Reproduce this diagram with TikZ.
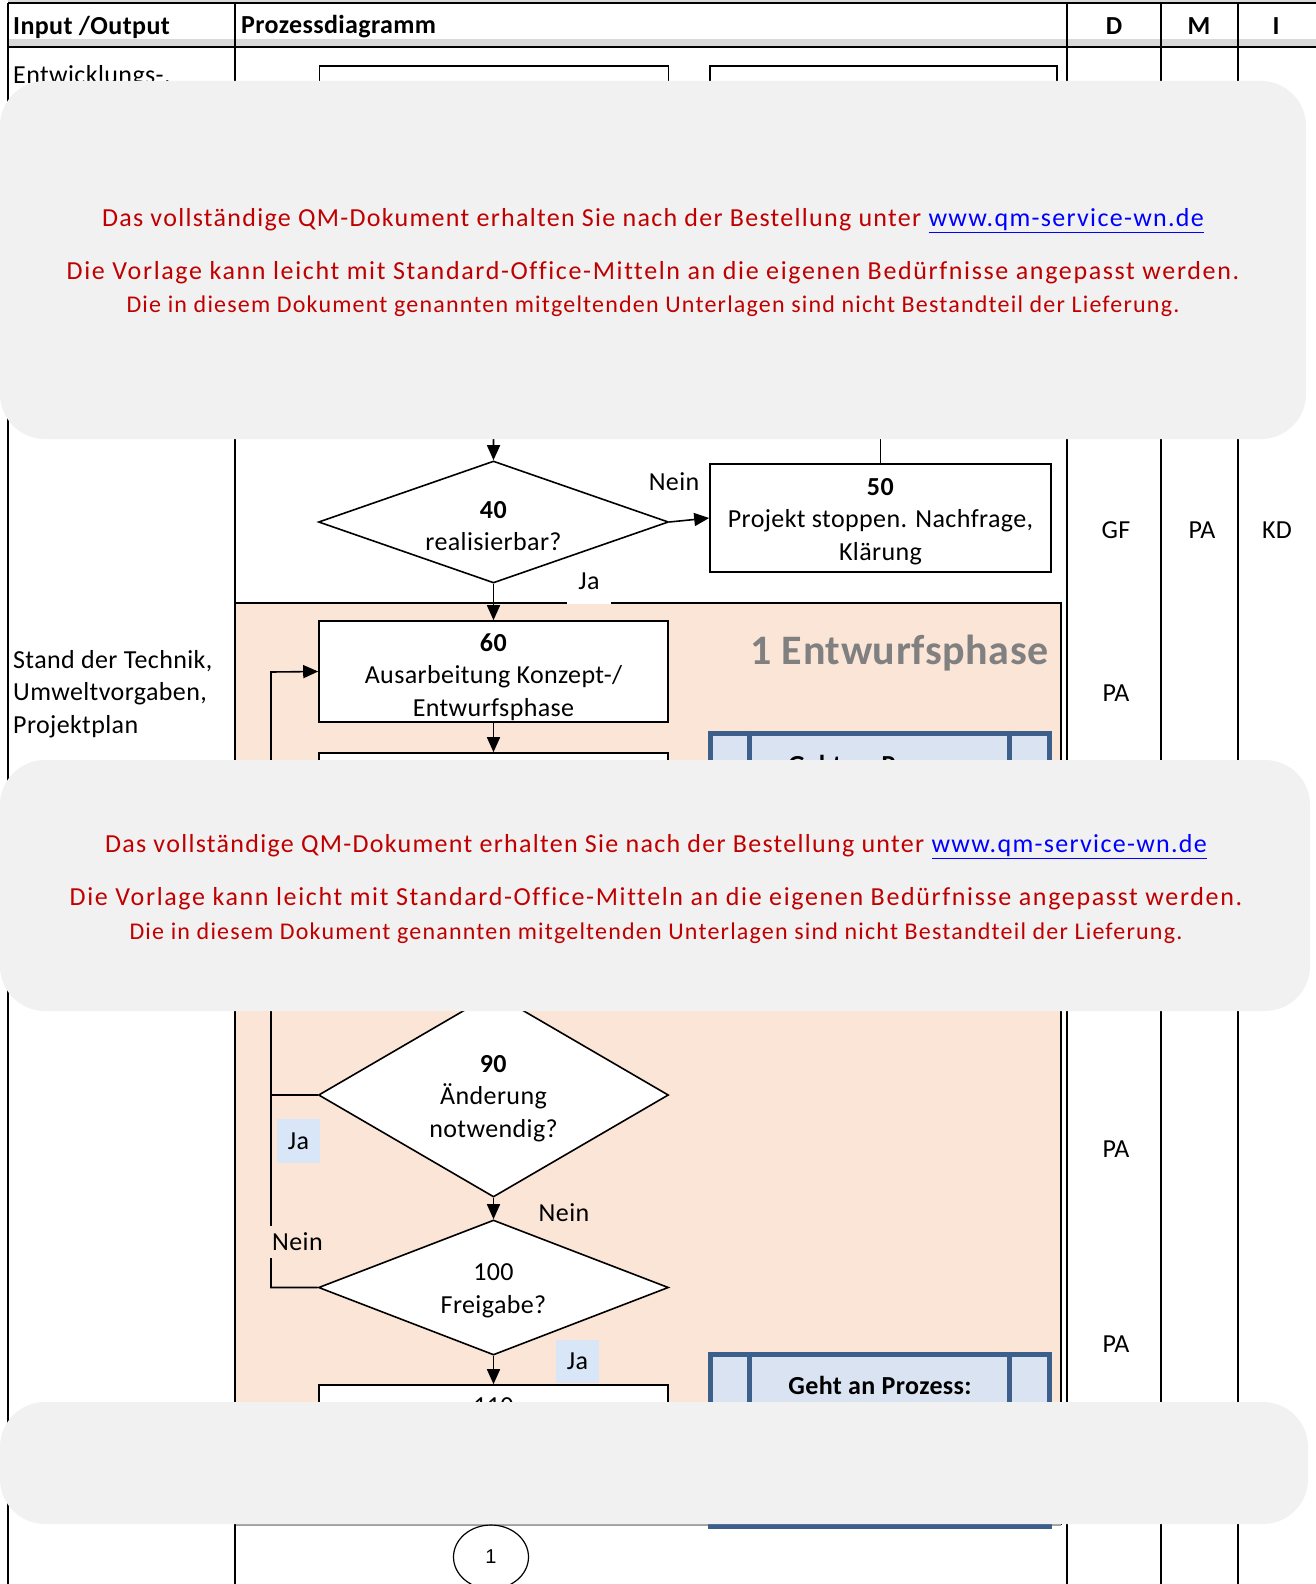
\documentclass[tikz,border=0pt]{standalone}
\usepackage{fontspec}
\setmainfont{Carlito}[LetterSpace=1.5,Ligatures=NoCommon]
\newfontfamily\ovfont{Carlito}[LetterSpace=5,Ligatures=NoCommon]
\newfontfamily\ovwide{Carlito}[LetterSpace=6.3,Ligatures=NoCommon]
\newfontfamily\arialfont{Liberation Sans}
\usetikzlibrary{arrows.meta,shapes.geometric}
\definecolor{peach}{HTML}{FBE5D6}
\definecolor{ovl}{HTML}{F1F1F1}
\definecolor{qred}{HTML}{C00000}
\definecolor{linkblue}{HTML}{0000FF}
\definecolor{gblue}{HTML}{3D5F8C}
\definecolor{gfill}{HTML}{DAE3F1}
\definecolor{jablue}{HTML}{D9E6F8}
\definecolor{hgray}{HTML}{D9D9D9}
\definecolor{titlegray}{HTML}{808080}
\definecolor{bottomgray}{HTML}{A0A0A0}
\begin{document}
\begin{tikzpicture}[x=1pt,y=-1pt,
  txt/.style={font=\fontsize{26}{32.5}\selectfont, inner sep=0pt},
  hdr/.style={font=\fontsize{26}{32}\selectfont\bfseries, inner sep=0pt},
  procbox/.style={draw, line width=1.6pt, fill=white, minimum width=349pt, inner sep=0pt},
  decision/.style={diamond, draw, line width=1.6pt, fill=white, inner sep=0pt, minimum width=350pt},
  flow/.style={line width=1.6pt, -{Triangle[length=15pt,width=13pt]}},
  plain/.style={line width=1.6pt},
  gridline/.style={line width=2pt},
  veil/.style={fill=ovl, rounded corners=45pt},
  ovtext/.style={font=\ovfont\fontsize{26}{30}\selectfont, text=qred, inner sep=0pt},
  ovwidetext/.style={font=\ovwide\fontsize{26}{30}\selectfont, text=qred, inner sep=0pt},
  ovsmall/.style={font=\ovfont\fontsize{24}{28}\selectfont, text=qred, inner sep=0pt},
  gehtbox/.style={draw=gblue, line width=5pt, fill=gfill, minimum width=339pt, inner sep=0pt},
  gehtbar/.style={draw=gblue, line width=5pt},
  label/.style={font=\fontsize{26}{32.5}\selectfont, inner sep=0pt},
]
\fill[white] (0,0) rectangle (1316,1584);
\useasboundingbox (0,0) rectangle (1316,1584);

% header
\fill[hgray] (8,0) rectangle (1316,3);
\fill[hgray] (8,39) rectangle (1316,46);
\draw[gridline] (8,3.5) -- (1316,3.5);
\draw[gridline] (8,47) -- (1316,47);
\node[hdr, anchor=west] (hio) at (13,27) {Input /Output};
\node[hdr, anchor=west] (hpd) at (241,27) {Prozessdiagramm};
\node[hdr] (hd) at (1114,26.5) {D};
\node[hdr] (hm) at (1199,26.5) {M};
\node[hdr] (hi) at (1276,26.5) {I};

% phase area
\fill[peach] (235,603) rectangle (1061,1525);
\draw[line width=1.6pt] (235,603) -- (1061,603) -- (1061,1525);
\draw[line width=1.6pt, bottomgray] (235,1525) -- (1061,1525);

% column lines
\draw[gridline] (8,3) -- (8,1584);
\draw[line width=2.6pt] (235,3) -- (235,1584);
\draw[gridline] (1067,3) -- (1067,1584);
\draw[gridline] (1161,3) -- (1161,1584);
\draw[gridline] (1238,3) -- (1238,1584);

% process boxes
\node[procbox, minimum height=134pt] (b10) at (494,133) {};
\node[procbox, minimum width=347pt, minimum height=134pt] (b10b) at (883.5,133) {};
\node[decision, minimum height=122pt] (d40) at (493.5,522) {};
\node[txt, align=center] (t40) at (493.5,526) {\textbf{40}\\realisierbar?};
\node[procbox, minimum width=341pt, minimum height=108pt] (b50) at (880.5,518) {};
\node[txt, align=center] (t50) at (880.5,521.5) {\textbf{50}\\Projekt stoppen. Nachfrage,\\Klärung};
\node[procbox, minimum height=101pt] (b60) at (493.5,671.5) {};
\node[txt, align=center] (t60) at (493.5,677) {\textbf{60}\\Ausarbeitung Konzept-/\\Entwurfsphase};
\node[procbox, minimum height=117pt] (b70) at (493.5,811.5) {};
\node[decision, minimum height=204pt] (d90) at (493.5,1095) {};
\node[txt, align=center] (t90) at (493.5,1098.5) {\textbf{90}\\Änderung\\notwendig?};
\node[decision, minimum height=135pt] (d100) at (493.5,1287.5) {};
\node[txt, align=center] (t100) at (493.5,1291) {100\\Freigabe?};
\node[procbox, minimum height=120pt] (b110) at (493.5,1445) {};
\node[txt] (t110) at (493.5,1406) {110};

% phase title
\node[font=\fontsize{42}{50}\selectfont\bfseries, text=titlegray, anchor=east, inner sep=0pt] (phase) at (1049,653) {1 Entwurfsphase};

% Geht an Prozess boxes
\node[gehtbox, minimum height=167pt] (g1) at (880,816.5) {};
\draw[gehtbar] ([xshift=41.5pt]g1.north west) -- ([xshift=41.5pt]g1.south west);
\draw[gehtbar] ([xshift=-42.5pt]g1.north east) -- ([xshift=-42.5pt]g1.south east);
\node[hdr] (g1t) at (880,764) {Geht an Prozess:};
\node[gehtbox, minimum height=172pt] (g2) at (880,1440) {};
\draw[gehtbar] ([xshift=41.5pt]g2.north west) -- ([xshift=41.5pt]g2.south west);
\draw[gehtbar] ([xshift=-42.5pt]g2.north east) -- ([xshift=-42.5pt]g2.south east);
\node[hdr] (g2t) at (880,1385) {Geht an Prozess:};

% connectors
\coordinate (loopx) at (271,672);
\draw[flow] (b10.south) -- (d40.north);
\draw[plain] (b10b.south -| b50.north) -- (b50.north);
\draw[flow] (d40.east) -- (b50.west);
\draw[flow] (d40.south) -- (b60.north);
\draw[flow] (b60.south) -- (b70.north);
\draw[flow] (b70.south) -- (d90.north);
\draw[flow] (d90.south) -- (d100.north);
\draw[flow] (d100.south) -- (b110.north);
\draw[flow] (d100.west) -- (d100.west -| loopx) -- (loopx) -- (b60.west);
\draw[plain] (d90.west) -- (d90.west -| loopx);

% connector labels
\node[label] (n40) at (674,482) {Nein};
\node[label, fill=white, minimum width=44pt, minimum height=46pt] (j40) at (589,581) {Ja};
\node[label, fill=jablue, minimum width=43pt, minimum height=44pt] (j90) at (298.5,1141) {Ja};
\node[label] (n90) at (564,1213) {Nein};
\node[label, fill=peach, anchor=west, inner xsep=2pt, minimum height=32pt] (n100) at (270,1242) {Nein};
\node[label, fill=jablue, minimum width=43pt, minimum height=43pt] (j100) at (577.5,1361.5) {Ja};

% left column
\node[txt, anchor=west] (in1) at (13,77) {Entwicklungs-,};
\node[txt, anchor=west, align=left] (in2) at (13,694) {Stand der Technik,\\Umweltvorgaben,\\Projektplan};

% right columns
\node[txt] (r1d) at (1116,530) {GF};
\node[txt] (r1m) at (1202,530) {PA};
\node[txt] (r1i) at (1277,530) {KD};
\node[txt] (r2d) at (1116,693) {PA};
\node[txt] (r3d) at (1116,1149) {PA};
\node[txt] (r4d) at (1116,1344) {PA};

% connector circle
\node[ellipse, draw, line width=1.2pt, minimum width=75pt, minimum height=64pt, inner sep=0pt, font=\arialfont\fontsize{20}{24}\selectfont] (c1) at (491,1557) {1};

% overlays
\fill[veil] (0,81) rectangle (1306,439);
\node[ovtext] (o1a) at (653,221) {Das vollständige QM-Dokument erhalten Sie nach der Bestellung unter \textcolor{linkblue}{\underline{www.qm-service-wn.de}}};
\node[ovwidetext] (o1b) at (653,273) {Die Vorlage kann leicht mit Standard-Office-Mitteln an die eigenen Bedürfnisse angepasst werden.};
\node[ovsmall] (o1c) at (653,306) {Die in diesem Dokument genannten mitgeltenden Unterlagen sind nicht Bestandteil der Lieferung.};

\fill[veil] (0,760) rectangle (1310,1011);
\node[ovtext] (o2a) at (656,847) {Das vollständige QM-Dokument erhalten Sie nach der Bestellung unter \textcolor{linkblue}{\underline{www.qm-service-wn.de}}};
\node[ovwidetext] (o2b) at (656,899) {Die Vorlage kann leicht mit Standard-Office-Mitteln an die eigenen Bedürfnisse angepasst werden.};
\node[ovsmall] (o2c) at (656,933) {Die in diesem Dokument genannten mitgeltenden Unterlagen sind nicht Bestandteil der Lieferung.};

\fill[veil] (0,1402) rectangle (1308,1524);
\end{tikzpicture}
\end{document}
